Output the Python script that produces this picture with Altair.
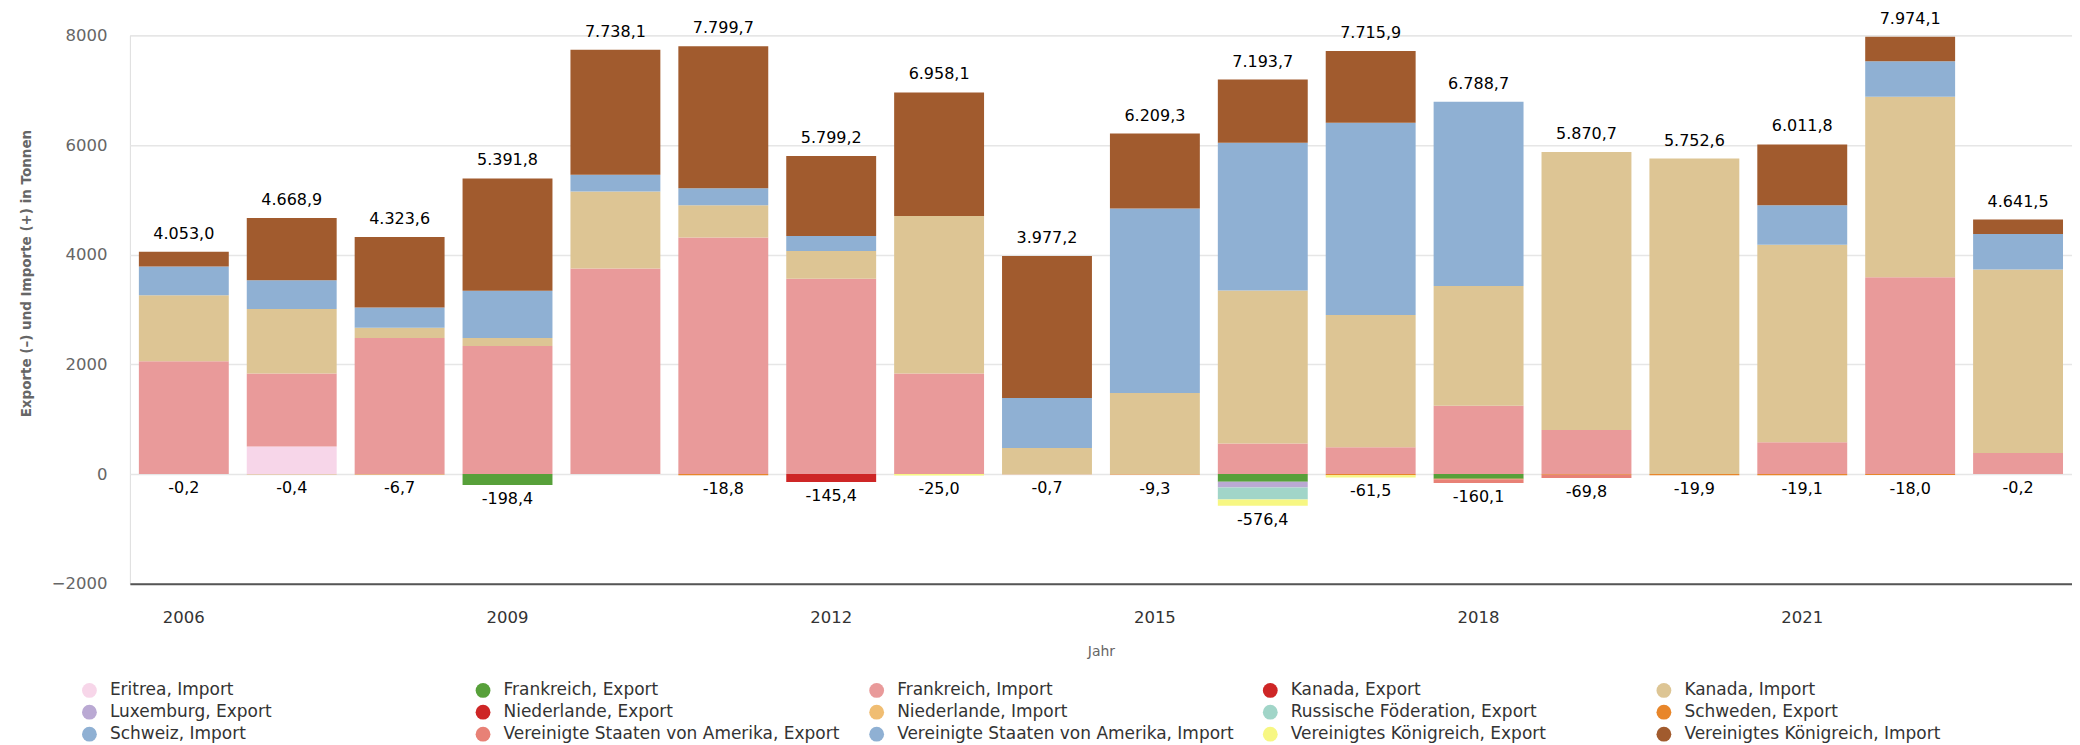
import altair as alt
import pandas as pd

years = list(range(2006, 2024))

# Imports (+), tonnes
eritrea_import = [0, 502, 0, 0, 0, 0, 0, 0, 0, 0, 0, 0, 0, 0, 0, 0, 0, 0]
frankreich_import = [2056, 1331, 2481, 2335, 3750, 4314, 3561, 1833, 0, 0, 558, 488, 1248, 802, 0, 579, 3590, 383]
kanada_import = [1206, 1178, 188, 146, 1401, 586, 509, 2871, 474, 1478, 2788, 2412, 2181, 5068.7, 5752.6, 3603, 3290, 3346]
niederlande_import = [0] * 18
schweiz_import = [522, 523, 370, 864, 306, 313, 272, 0, 0, 0, 0, 0, 0, 0, 0, 0, 0, 0]
usa_import = [0, 0, 0, 0, 0, 0, 0, 0, 913, 3366, 2697, 3505, 3359.7, 0, 0, 718, 647, 648]
vk_import = [269, 1134.9, 1284.6, 2046.8, 2281.1, 2586.7, 1457.2, 2254.1, 2590.2, 1365.3, 1150.7, 1310.9, 0, 0, 0, 1111.8, 447.1, 264.5]

# Exports (-), tonnes
frankreich_export = [0, 0, 0, -198.4, 0, 0, 0, 0, 0, 0, -140, 0, -85, 0, 0, 0, 0, 0]
kanada_export = [0, 0, 0, 0, 0, 0, -145.4, 0, 0, 0, 0, 0, 0, 0, 0, 0, 0, 0]
luxemburg_export = [0, 0, 0, 0, 0, 0, 0, 0, 0, 0, -105, 0, 0, 0, 0, 0, 0, 0]
niederlande_export = [0] * 18
russland_export = [0, 0, 0, 0, 0, 0, 0, 0, 0, 0, -220, 0, 0, 0, 0, 0, 0, 0]
schweden_export = [-0.2, -0.4, -6.7, 0, 0, -18.8, 0, 0, -0.7, -9.3, 0, -20, -10, -10, -19.9, -19.1, -18.0, -0.2]
usa_export = [0, 0, 0, 0, 0, 0, 0, 0, 0, 0, 0, 0, -65.1, -59.8, 0, 0, 0, 0]
vk_export = [0, 0, 0, 0, 0, 0, 0, -25.0, 0, 0, -111.4, -41.5, 0, 0, 0, 0, 0, 0]

series_names = [
    "Eritrea, Import", "Frankreich, Export", "Frankreich, Import", "Kanada, Export", "Kanada, Import",
    "Luxemburg, Export", "Niederlande, Export", "Niederlande, Import", "Russische Föderation, Export", "Schweden, Export",
    "Schweiz, Import", "Vereinigte Staaten von Amerika, Export", "Vereinigte Staaten von Amerika, Import",
    "Vereinigtes Königreich, Export", "Vereinigtes Königreich, Import",
]
series_values = [
    eritrea_import, frankreich_export, frankreich_import, kanada_export, kanada_import,
    luxemburg_export, niederlande_export, niederlande_import, russland_export, schweden_export,
    schweiz_import, usa_export, usa_import, vk_export, vk_import,
]
series_colors = [
    "#F7D6E9", "#57A03A", "#E99A9A", "#CE2626", "#DDC594",
    "#BAA9D3", "#CE2626", "#F0BD72", "#A1D5C8", "#E8862A",
    "#8FB0D3", "#E88176", "#8FB0D3", "#F7F783", "#A15B2E",
]

rows = []
for i, (name, vals) in enumerate(zip(series_names, series_values)):
    for y, v in zip(years, vals):
        if v != 0:
            rows.append({"Jahr": str(y), "Serie": name, "Wert": v, "idx": i})
df = pd.DataFrame(rows)


def de_fmt(v):
    s = f"{v:,.1f}"
    return s.replace(",", "X").replace(".", ",").replace("X", ".")


pos_tot = df[df.Wert > 0].groupby("Jahr")["Wert"].sum().reset_index()
pos_tot["label"] = pos_tot["Wert"].apply(de_fmt)
neg_tot = df[df.Wert < 0].groupby("Jahr")["Wert"].sum().reset_index()
neg_tot["label"] = neg_tot["Wert"].apply(de_fmt)

FONT = "DejaVu Sans"
year_order = [str(y) for y in years]

xenc = alt.X(
    "Jahr:N",
    sort=year_order,
    scale=alt.Scale(domain=year_order, paddingInner=0.1667, paddingOuter=0.0833),
    axis=alt.Axis(
        title="Jahr",
        labelAngle=0,
        labelExpr="(toNumber(datum.value) - 2006) % 3 == 0 ? datum.value : ''",
        ticks=False,
        labelPadding=26,
        labelFontSize=16.5,
        labelColor="#333333",
        labelFont=FONT,
        domainColor="#555555",
        domainWidth=2,
        titleFont=FONT,
        titleFontSize=14,
        titleFontWeight="normal",
        titleColor="#666666",
        titlePadding=18,
        grid=False,
    ),
)

bars = alt.Chart(df).mark_bar().encode(
    x=xenc,
    y=alt.Y(
        "Wert:Q",
        stack="zero",
        scale=alt.Scale(domain=[-2000, 8000], nice=False),
        axis=alt.Axis(
            title="Exporte (–) und Importe (+) in Tonnen",
            values=[-2000, 0, 2000, 4000, 6000, 8000],
            format="d",
            domain=False,
            ticks=False,
            labelPadding=23,
            labelFontSize=16.5,
            labelColor="#666666",
            labelFont=FONT,
            gridColor="#e6e6e6",
            gridWidth=1.5,
            titleFont=FONT,
            titleFontSize=13.5,
            titleFontWeight="bold",
            titleColor="#666666",
            titlePadding=18,
            titleY=238,
        ),
    ),
    color=alt.Color(
        "Serie:N",
        scale=alt.Scale(domain=series_names, range=series_colors),
        legend=alt.Legend(
            orient="none",
            legendX=-49,
            legendY=647,
            columns=5,
            direction="horizontal",
            title=None,
            symbolType="circle",
            symbolSize=220,
            symbolStrokeWidth=0,
            labelFontSize=17,
            labelFont=FONT,
            labelColor="#333333",
            labelLimit=450,
            labelOffset=12,
            columnPadding=27,
            rowPadding=4,
            gridAlign="all",
            padding=0,
        ),
    ),
    order=alt.Order("idx:Q", sort="ascending"),
)

top_labels = alt.Chart(pos_tot).mark_text(
    baseline="bottom", dy=-10, fontSize=16, font=FONT, color="#000000"
).encode(x=alt.X("Jahr:N", sort=year_order), y="Wert:Q", text="label:N")

bottom_labels = alt.Chart(neg_tot).mark_text(
    baseline="top", dy=6, fontSize=16, font=FONT, color="#000000"
).encode(x=alt.X("Jahr:N", sort=year_order), y="Wert:Q", text="label:N")

chart = (
    alt.layer(bars, top_labels, bottom_labels)
    .properties(
        width=1944,
        height=549,
        autosize=alt.AutoSizeParams(type="none"),
        padding={"left": 122, "top": 27, "right": 0, "bottom": 160},
    )
    .configure_view(stroke=None)
    .configure(font=FONT)
)

chart.save("out.html", embed_options={"renderer": "svg", "actions": False})
